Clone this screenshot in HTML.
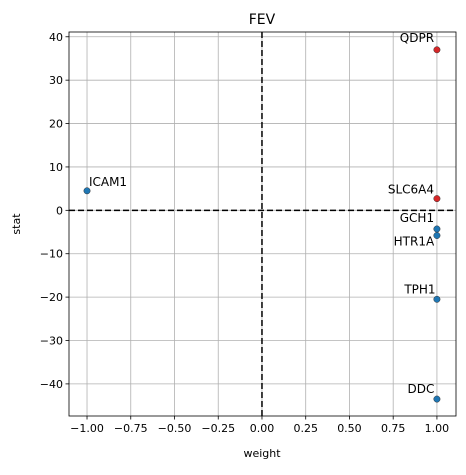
<!DOCTYPE html>
<html><head><meta charset="utf-8"><style>
body{margin:0;background:#fff}
svg text{font-family:"DejaVu Sans","Liberation Sans",sans-serif}
</style></head><body>
<svg id="chart" width="466" height="470" xmlns="http://www.w3.org/2000/svg">
<g id="grid"></g>
<g id="axes"></g>
<g id="marks"></g>
<text x="262" y="24" font-size="14" text-anchor="middle">FEV</text>
<text x="262" y="457" font-size="11" text-anchor="middle">weight</text>
<text x="20" y="224" font-size="11" text-anchor="middle" transform="rotate(-90 20 224)">stat</text>
</svg>
<script>
const genes=["QDPR","SLC6A4","GCH1","HTR1A","TPH1","DDC","ICAM1"];
const weights=[1,1,1,1,1,1,-1];
const stats=[37,2.7,-4.3,-5.8,-20.5,-43.5,4.5];
const significant=[true,true,false,false,false,false,false];
const xTicks=[-1,-0.75,-0.5,-0.25,0,0.25,0.5,0.75,1];
const xTickLabels=["−1.00","−0.75","−0.50","−0.25","0.00","0.25","0.50","0.75","1.00"];
const yTicks=[-40,-30,-20,-10,0,10,20,30,40];
const labelOffsets=[[-20,-8],[-26,-5],[-20,-7],[-23,10],[-17,-6],[-16,-6],[21,-5]];

const L=69,R=456,T=32,B=416;
const xMin=-1.103,xMax=1.109,yMin=-47.4,yMax=41.1;
const sx=v=>L+(v-xMin)/(xMax-xMin)*(R-L);
const sy=v=>B-(v-yMin)/(yMax-yMin)*(B-T);
const NS="http://www.w3.org/2000/svg";
function mk(tag,attrs,parent){const e=document.createElementNS(NS,tag);for(const k in attrs)e.setAttribute(k,attrs[k]);parent.appendChild(e);return e;}
const grid=document.getElementById('grid'),axes=document.getElementById('axes'),marks=document.getElementById('marks');
xTicks.forEach((t,i)=>{const x=sx(t);
 const g=mk('line',{x1:x,x2:x,y1:T,y2:B,stroke:'#b0b0b0','stroke-width':0.8},grid);
 
 const tk=mk('line',{x1:x,x2:x,y1:B,y2:B+3.5,stroke:'#000','stroke-width':0.8},axes);
 
 const tx=mk('text',{x:x,y:B+16,'font-size':11,'text-anchor':'middle'},axes);tx.textContent=xTickLabels[i];
 });
yTicks.forEach(t=>{const y=sy(t);
 const g=mk('line',{x1:L,x2:R,y1:y,y2:y,stroke:'#b0b0b0','stroke-width':0.8},grid);
 
 const tk=mk('line',{x1:L-3.5,x2:L,y1:y,y2:y,stroke:'#000','stroke-width':0.8},axes);
 
 const tx=mk('text',{x:L-6,y:y+4,'font-size':11,'text-anchor':'end'},axes);tx.textContent=(t<0?'−'+(-t):t);
 });
const h0=mk('line',{x1:L,x2:R,y1:sy(0),y2:sy(0),stroke:'#000','stroke-width':1.5,'stroke-dasharray':'6,3'},axes);

const v0=mk('line',{x1:sx(0),x2:sx(0),y1:T,y2:B,stroke:'#000','stroke-width':1.5,'stroke-dasharray':'6,3'},axes);

const fr=mk('rect',{x:L,y:T,width:R-L,height:B-T,fill:'none',stroke:'#000','stroke-width':0.8},axes);

genes.forEach((g,i)=>{const x=sx(weights[i]),y=sy(stats[i]);
 const c=mk('circle',{cx:x,cy:y,r:3.2,fill:significant[i]?'#d62728':'#1f77b4',stroke:'#333','stroke-width':0.5},marks);
 
 const o=labelOffsets[i];
 const t=mk('text',{x:x+o[0],y:y+o[1],'font-size':12,'text-anchor':'middle'},marks);t.textContent=g;
 });
</script>
</body></html>
